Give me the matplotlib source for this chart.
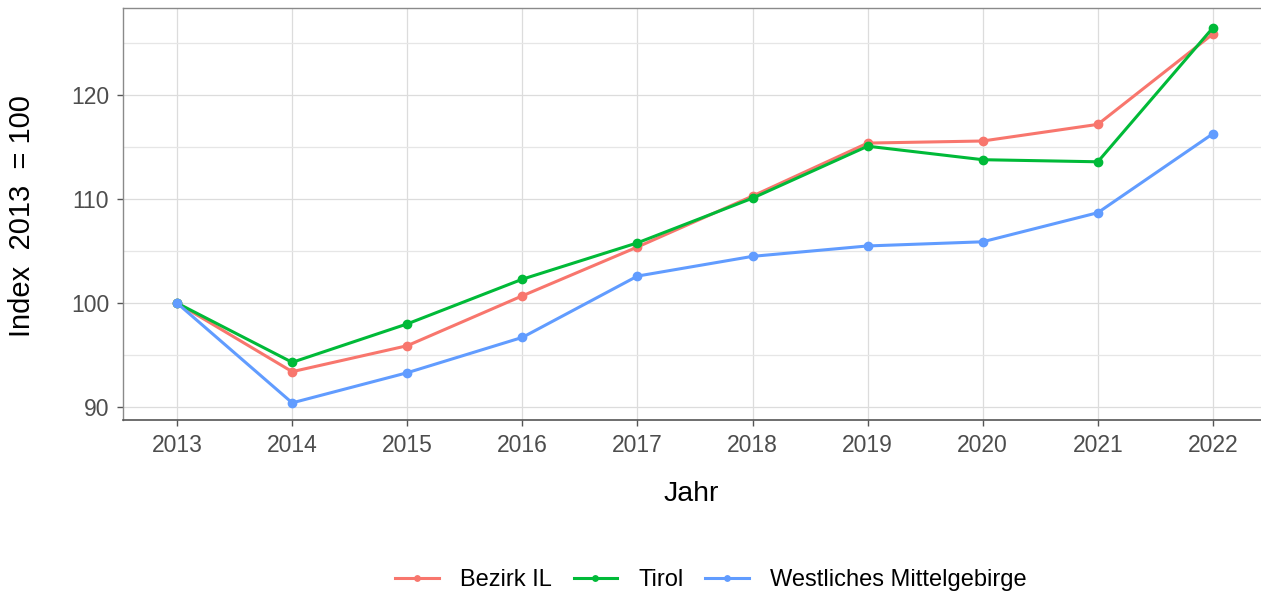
import matplotlib
matplotlib.use("Agg")
import matplotlib.pyplot as plt
from matplotlib.ticker import MultipleLocator

years = [2013, 2014, 2015, 2016, 2017, 2018, 2019, 2020, 2021, 2022]
bezirk_il = [100, 93.4, 95.9, 100.7, 105.4, 110.3, 115.4, 115.6, 117.2, 125.9]
tirol = [100, 94.3, 98.0, 102.3, 105.8, 110.1, 115.1, 113.8, 113.6, 126.5]
westl_mg = [100, 90.4, 93.3, 96.7, 102.6, 104.5, 105.5, 105.9, 108.7, 116.3]

series = [("Bezirk IL", bezirk_il, "#F8766D"),
          ("Tirol", tirol, "#00BA38"),
          ("Westliches Mittelgebirge", westl_mg, "#619CFF")]

plt.rcParams['font.family'] = ['Arial', 'Liberation Sans', 'DejaVu Sans']

fig = plt.figure(figsize=(12.61, 5.96), dpi=100)
ax = fig.add_axes([123/1261, 1-420/596, 1144/1261, 412/596])

for name, vals, col in series:
    ax.plot(years, vals, color=col, lw=2.2, marker='o', ms=6, label=name, zorder=3)

ax.set_xlim(2012.53, 2022.47)
ax.set_ylim(88.75, 128.4)
ax.set_xticks(years)
ax.set_xticklabels([str(y) for y in years])
ax.yaxis.set_major_locator(MultipleLocator(10))
ax.yaxis.set_minor_locator(MultipleLocator(5))
ax.grid(True, which='major', color='#dcdcdc', lw=0.9, zorder=0)
ax.grid(True, which='minor', axis='y', color='#e6e6e6', lw=0.9, zorder=0)
ax.set_axisbelow(True)

for s in ['top', 'left', 'right']:
    ax.spines[s].set_color('#8a8a8a')
    ax.spines[s].set_linewidth(1.0)
ax.spines['bottom'].set_color('#555555')
ax.spines['bottom'].set_linewidth(1.2)

ax.tick_params(axis='both', which='major', labelsize=16.5, labelcolor='#4d4d4d',
               color='#555555', length=4, width=1, pad=6)
ax.tick_params(axis='y', which='minor', length=0)

ax.set_xlabel("Jahr", fontsize=20.5)
ax.set_ylabel("Index  2013  = 100", fontsize=21)
ax.xaxis.label.set_va('center')
ax.xaxis.set_label_coords((691-123)/1144, (420-494)/412)
ax.yaxis.label.set_va('center')
ax.yaxis.label.set_ha('center')
ax.yaxis.set_label_coords((22-123)/1144, (420-216)/412)

handles, labels = ax.get_legend_handles_labels()
fig.legend(handles, labels, loc='center', bbox_to_anchor=(711/1261, 1-580/596), ncol=3,
           frameon=False, fontsize=17, handlelength=1.85, columnspacing=0.9,
           handletextpad=0.9, markerscale=0.65)

fig.savefig("out.png", dpi=100)
